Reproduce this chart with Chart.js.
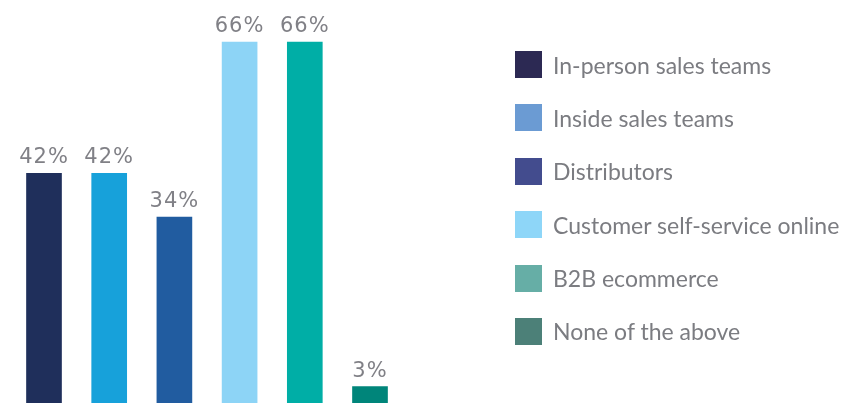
<!DOCTYPE html>
<html>
<head>
<meta charset="utf-8">
<script src="https://cdn.jsdelivr.net/npm/chart.js@4/dist/chart.umd.min.js"></script>
<style>
  html, body { margin: 0; padding: 0; background: #fff; }
  #wrap { position: relative; width: 844px; height: 403px; overflow: hidden; }
  #legend { position: absolute; left: 515px; top: 51px; margin: 0; padding: 0; list-style: none;
            font-family: Lato, sans-serif; font-size: 23px; color: #7b7c81; }
  #legend li { display: flex; align-items: center; height: 27px; margin-bottom: 26.4px; white-space: nowrap; }
  #legend span.box { display: inline-block; width: 27px; height: 27px; margin-right: 11px; flex: none; }
</style>
</head>
<body>
<div id="wrap">
  <canvas id="myChart" width="844" height="403"></canvas>
  <ul id="legend"></ul>
</div>
<script>
// data
const categories = [
  "In-person sales teams",
  "Inside sales teams",
  "Distributors",
  "Customer self-service online",
  "B2B ecommerce",
  "None of the above",
];
const values = [42, 42, 34, 66, 66, 3];
const barColors = ["#1f2f5b", "#17a1da", "#215ca0", "#8dd4f6", "#00aea6", "#00857a"];
const legendColors = ["#2c2953", "#6b9bd3", "#434c8e", "#8ed6f8", "#66aea6", "#4c8078"];

const labelFont = "21px 'DejaVu Sans', sans-serif";

// percent labels above each bar
const valueLabels = {
  id: "valueLabels",
  afterDatasetsDraw(chart) {
    const ctx = chart.ctx;
    const meta = chart.getDatasetMeta(0);
    ctx.save();
    ctx.font = labelFont;
    ctx.letterSpacing = "1px";
    ctx.fillStyle = "#808086";
    ctx.textAlign = "center";
    ctx.textBaseline = "alphabetic";
    meta.data.forEach((bar, i) => {
      ctx.fillText(values[i] + "%", bar.x, bar.y - 10);
    });
    ctx.restore();
  },
};

config = {
  type: "bar",
  data: {
    labels: categories,
    datasets: [
      {
        data: values,
        backgroundColor: barColors,
        barThickness: 35,
      },
    ],
  },
  options: {
    responsive: false,
    animation: false,
    layout: {
      padding: { left: 11.4, top: 24.5, bottom: 0, right: 441.4 },
    },
    scales: {
      x: { display: false },
      y: { display: false, min: 0, max: 69.2 },
    },
    plugins: {
      tooltip: { enabled: false },
      legend: { display: false },
    },
  },
  plugins: [valueLabels],
};

myChart = new Chart(document.getElementById("myChart"), config);

// html legend, same order as the bars
legend = document.getElementById("legend");
for (let i = 0; i < categories.length; i++) {
  let li = document.createElement("li");
  let box = document.createElement("span");
  box.className = "box";
  box.style.background = legendColors[i];
  li.appendChild(box);
  li.appendChild(document.createTextNode(categories[i]));
  legend.appendChild(li);
}
</script>
</body>
</html>
